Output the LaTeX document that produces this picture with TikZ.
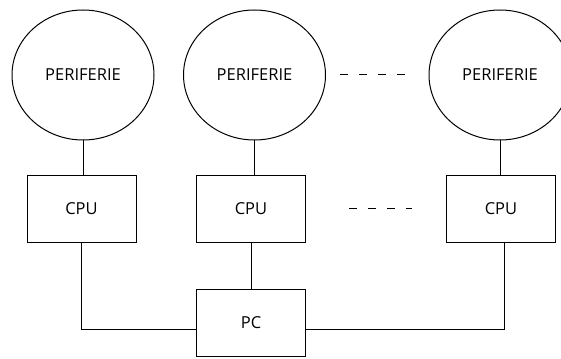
\documentclass[tikz,border=0pt]{standalone}
\usepackage{fontspec}
\setmainfont{Open Sans}
\usetikzlibrary{positioning}
\usetikzlibrary{shapes.geometric}

\tikzset{
  periph/.style={draw, ellipse, inner sep=0pt,
        minimum width=142pt,
        minimum height=130pt},
  cpubox/.style={draw, inner sep=0pt,
        minimum width=109pt,
        minimum height=67pt},
  dots/.style={dash pattern=on 8pt off 11pt}
}

\begin{document}
\begin{tikzpicture}[x=1pt, y=-1pt, line width=1pt,
    font=\fontsize{16.5}{19}\selectfont]
\useasboundingbox (0,0) rectangle (561,358);

% Peripherals
\node[periph] (per1) at (83,75) {PERIFERIE};
\node[periph] (per2) at (254.5,75) {PERIFERIE};
\node[periph] (per3) at (500,75) {PERIFERIE};

% CPUs
\node[cpubox] (cpu1) at (81.5,208.5) {CPU};
\node[cpubox] (cpu2) at (251,208.5) {CPU};
\node[cpubox] (cpu3) at (501,208.5) {CPU};

% PC
\node[cpubox, below=46pt of cpu2] (pc) {PC};

% Links
\draw (per1.south) -- (per1.south |- cpu1.north);
\draw (per2.south) -- (per2.south |- cpu2.north);
\draw (per3.south) -- (per3.south |- cpu3.north);

\draw (cpu1.south) |- ([yshift=-7pt]pc.west);
\draw (cpu2.south) -- (pc.north);
\draw (cpu3.south) ++(3,0) |- ([yshift=-7pt]pc.east);

% more of them
\draw[dots, shorten <=14pt, shorten >=23pt] (per2.east) -- (per3.west);
\draw[dots, shorten <=43pt, shorten >=34pt] (cpu2.east) -- (cpu3.west);

\end{tikzpicture}
\end{document}
